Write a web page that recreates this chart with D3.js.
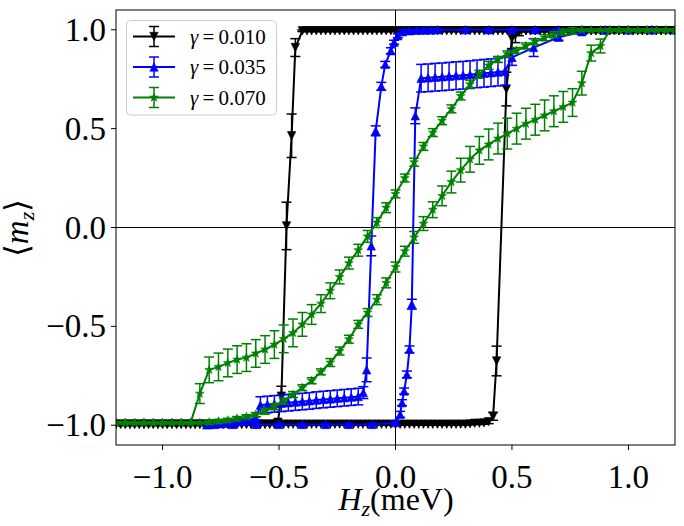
<!DOCTYPE html>
<html><head><meta charset="utf-8">
<script src="https://cdn.jsdelivr.net/npm/d3@7"></script>
<style>body{margin:0;background:#fff}svg{display:block}</style>
</head><body>
<svg id="chart" width="684" height="526"></svg>
<script>
// ---------------- data ----------------
const xTicks = [-1.0, -0.5, 0.0, 0.5, 1.0];
const yTicks = [-1.0, -0.5, 0.0, 0.5, 1.0];
const seriesNames = ["γ = 0.010", "γ = 0.035", "γ = 0.070"];

// gamma = 0.010, field increasing branch
const blackLowH = [-1.2,-1.18,-1.16,-1.14,-1.12,-1.1,-1.08,-1.06,-1.04,-1.02,-1,-0.98,-0.96,-0.94,-0.92,-0.9,-0.88,-0.86,-0.84,-0.82,-0.8,-0.78,-0.76,-0.74,-0.72,-0.7,-0.68,-0.66,-0.64,-0.62,-0.6,-0.58,-0.56,-0.54,-0.52,-0.5,-0.48,-0.46,-0.44,-0.42,-0.4,-0.38,-0.36,-0.34,-0.32,-0.3,-0.28,-0.26,-0.24,-0.22,-0.2,-0.18,-0.16,-0.14,-0.12,-0.1,-0.08,-0.06,-0.04,-0.02,0,0.02,0.04,0.06,0.08,0.1,0.12,0.14,0.16,0.18,0.2,0.22,0.24,0.26,0.28,0.3,0.32,0.34,0.36,0.38,0.4,
 0.419,0.434,0.476,0.5,0.515,0.53,
 0.56,0.58,0.6,0.62,0.64,0.66,0.68,0.7,0.72,0.74,0.76,0.78,0.8,0.82,0.84,0.86,0.88,0.9,0.92,0.94,0.96,0.98,1,1.02,1.04,1.06,1.08,1.1,1.12,1.14,1.16,1.18,1.2];
const blackLowM = [-0.995,-0.995,-0.995,-0.995,-0.995,-0.995,-0.995,-0.995,-0.995,-0.995,
 -0.995,-0.995,-0.995,-0.995,-0.995,-0.995,-0.995,-0.995,-0.995,-0.995,
 -0.995,-0.995,-0.995,-0.995,-0.995,-0.995,-0.995,-0.995,-0.995,-0.995,
 -0.995,-0.995,-0.995,-0.995,-0.995,-0.995,-0.995,-0.995,-0.995,-0.995,
 -0.995,-0.995,-0.995,-0.995,-0.995,-0.995,-0.995,-0.995,-0.995,-0.995,
 -0.995,-0.995,-0.995,-0.995,-0.995,-0.995,-0.995,-0.995,-0.995,-0.995,
 -0.995,-0.995,-0.995,-0.995,-0.995,-0.995,-0.995,-0.995,-0.995,-0.995,
 -0.995,-0.995,-0.995,-0.995,-0.995,-0.995,-0.993,-0.99,-0.99,-0.988,-0.982,
 -0.955,-0.675,0.70,0.955,0.975,0.99,
 0.995,0.995,0.995,0.995,0.995,0.995,0.995,0.995,0.995,0.995,0.995,
 0.995,0.995,0.995,0.995,0.995,0.995,0.995,0.995,0.995,0.995,0.995,
 0.995,0.995,0.995,0.995,0.995,0.995,0.995,0.995,0.995,0.995,0.995];
const blackLowErr = [0.004,0.004,0.004,0.004,0.004,0.004,0.004,0.004,0.004,0.004,
 0.004,0.004,0.004,0.004,0.004,0.004,0.004,0.004,0.004,0.004,
 0.004,0.004,0.004,0.004,0.004,0.004,0.004,0.004,0.004,0.004,
 0.004,0.004,0.004,0.004,0.004,0.004,0.004,0.004,0.004,0.004,
 0.004,0.004,0.004,0.004,0.004,0.004,0.004,0.004,0.004,0.004,
 0.004,0.004,0.004,0.004,0.004,0.004,0.004,0.004,0.004,0.004,
 0.004,0.004,0.004,0.004,0.004,0.004,0.004,0.004,0.004,0.004,
 0.004,0.004,0.004,0.004,0.004,0.004,0.005,0.006,0.006,0.007,0.01,
 0.02,0.075,0.085,0.05,0.04,0.02,
 0.004,0.004,0.004,0.004,0.004,0.004,0.004,0.004,0.004,0.004,0.004,
 0.004,0.004,0.004,0.004,0.004,0.004,0.004,0.004,0.004,0.004,0.004,
 0.004,0.004,0.004,0.004,0.004,0.004,0.004,0.004,0.004,0.004,0.004];

// gamma = 0.010, field decreasing branch
const blackUpH = [-1.2,-1.18,-1.16,-1.14,-1.12,-1.1,-1.08,-1.06,-1.04,-1.02,-1,-0.98,-0.96,-0.94,-0.92,-0.9,-0.88,-0.86,-0.84,-0.82,-0.8,-0.78,-0.76,-0.74,-0.72,-0.7,-0.68,-0.66,-0.64,-0.62,-0.6,-0.58,-0.56,-0.54,-0.52,
 -0.505,-0.49,-0.468,-0.446,-0.43,
 -0.4,-0.38,-0.36,-0.34,-0.32,-0.3,-0.28,-0.26,-0.24,-0.22,-0.2,-0.18,-0.16,-0.14,-0.12,-0.1,-0.08,-0.06,-0.04,-0.02,0,0.02,0.04,0.06,0.08,0.1,0.12,0.14,0.16,0.18,0.2,0.22,0.24,0.26,0.28,0.3,0.32,0.34,0.36,0.38,0.4,0.42,0.44,0.46,0.48,0.5,0.52,0.54,0.56,0.58,0.6,0.62,0.64,0.66,0.68,0.7,0.72,0.74,0.76,0.78,0.8,0.82,0.84,0.86,0.88,0.9,0.92,0.94,0.96,0.98,1,1.02,1.04,1.06,1.08,1.1,1.12,1.14,1.16,1.18,1.2];
const blackUpM = [-0.995,-0.995,-0.995,-0.995,-0.995,-0.995,-0.995,-0.995,-0.995,-0.995,
 -0.995,-0.995,-0.995,-0.995,-0.995,-0.995,-0.995,-0.995,-0.995,-0.995,
 -0.995,-0.995,-0.995,-0.995,-0.995,-0.995,-0.995,-0.995,-0.995,-0.995,
 -0.995,-0.995,-0.995,-0.995,-0.995,
 -0.985,-0.853,0.008,0.464,0.91,
 0.995,0.995,0.995,0.995,0.995,0.995,0.995,0.995,0.995,0.995,
 0.995,0.995,0.995,0.995,0.995,0.995,0.995,0.995,0.995,0.995,
 0.995,0.995,0.995,0.995,0.995,0.995,0.995,0.995,0.995,0.995,
 0.995,0.995,0.995,0.995,0.995,0.995,0.995,0.995,0.995,0.995,
 0.995,0.995,0.995,0.995,0.995,0.995,0.995,0.995,0.995,0.995,
 0.995,0.995,0.995,0.995,0.995,0.995,0.995,0.995,0.995,0.995,
 0.995,0.995,0.995,0.995,0.995,0.995,0.995,0.995,0.995,0.995,
 0.995,0.995,0.995,0.995,0.995,0.995,0.995,0.995,0.995,0.995,0.995];
const blackUpErr = [0.004,0.004,0.004,0.004,0.004,0.004,0.004,0.004,0.004,0.004,
 0.004,0.004,0.004,0.004,0.004,0.004,0.004,0.004,0.004,0.004,
 0.004,0.004,0.004,0.004,0.004,0.004,0.004,0.004,0.004,0.004,
 0.004,0.004,0.004,0.004,0.004,
 0.01,0.05,0.12,0.11,0.045,
 0.004,0.004,0.004,0.004,0.004,0.004,0.004,0.004,0.004,0.004,
 0.004,0.004,0.004,0.004,0.004,0.004,0.004,0.004,0.004,0.004,
 0.004,0.004,0.004,0.004,0.004,0.004,0.004,0.004,0.004,0.004,
 0.004,0.004,0.004,0.004,0.004,0.004,0.004,0.004,0.004,0.004,
 0.004,0.004,0.004,0.004,0.004,0.004,0.004,0.004,0.004,0.004,
 0.004,0.004,0.004,0.004,0.004,0.004,0.004,0.004,0.004,0.004,
 0.004,0.004,0.004,0.004,0.004,0.004,0.004,0.004,0.004,0.004,
 0.004,0.004,0.004,0.004,0.004,0.004,0.004,0.004,0.004,0.004,0.004];

// gamma = 0.035, field increasing branch
const blueLowH = [-0.8,-0.7,-0.6,-0.5,-0.4,-0.3,-0.2,-0.1,0.0,0.02,0.028,0.037,0.049,0.06,0.07,0.085,
 0.11,0.14,0.17,0.2,0.23,0.26,0.29,0.32,0.35,0.38,0.41,0.44,0.47,0.5,0.593,0.7,0.8,0.9,1.0,1.1,1.2];
const blueLowM = [-0.996,-0.996,-0.996,-0.996,-0.996,-0.996,-0.996,-0.996,-0.987,-0.945,-0.886,-0.827,-0.743,-0.616,-0.388,0.565,
 0.755,0.757,0.76,0.762,0.765,0.768,0.77,0.773,0.777,0.78,0.783,0.786,0.79,0.86,0.91,0.962,0.99,0.998,1,1,1];
const blueLowErr = [0.005,0.005,0.005,0.005,0.005,0.005,0.005,0.005,0.01,0.015,0.015,0.015,0.017,0.017,0.025,0.04,
 0.07,0.07,0.07,0.07,0.07,0.07,0.07,0.07,0.07,0.07,0.07,0.07,0.07,0.04,0.045,0.015,0.01,0.005,0.005,0.005,0.005];

// gamma = 0.035, field decreasing branch
const blueUpH = [-0.81,-0.78,-0.75,-0.72,-0.69,-0.66,-0.63,-0.6,
 -0.58,-0.55,-0.52,-0.49,-0.46,-0.43,-0.4,-0.37,-0.34,-0.31,-0.28,-0.25,-0.22,-0.19,-0.16,
 -0.138,-0.124,-0.104,-0.085,-0.061,-0.044,-0.02,-0.006,0.01,0.03,
 0.06,0.09,0.12,0.15,0.18,0.3,0.4,0.5,0.6,0.7,0.8,0.9,1.0,1.1,1.2];
const blueUpM = [-0.998,-0.996,-0.993,-0.99,-0.985,-0.98,-0.974,-0.965,
 -0.898,-0.895,-0.892,-0.889,-0.886,-0.883,-0.88,-0.877,-0.873,-0.87,-0.867,-0.864,-0.861,-0.858,-0.855,
 -0.835,-0.72,-0.093,0.489,0.714,0.825,0.894,0.937,0.97,0.99,
 0.995,0.997,0.998,0.999,1,1,1,1,1,1,1,1,1,1,1];
const blueUpErr = [0.008,0.008,0.008,0.008,0.008,0.008,0.008,0.008,
 0.042,0.042,0.042,0.042,0.042,0.042,0.042,0.042,0.042,0.042,0.042,0.042,0.042,0.042,0.042,
 0.03,0.06,0.05,0.025,0.02,0.015,0.015,0.01,0.01,0.01,
 0.005,0.005,0.005,0.005,0.005,0.004,0.004,0.004,0.004,0.004,0.004,0.004,0.004,0.004,0.004];

// gamma = 0.070, common field grid
const greenH = [-1.2,-1.16,-1.12,-1.08,-1.04,-1,-0.96,-0.92,-0.88,-0.84,-0.8,-0.76,-0.72,-0.68,-0.64,-0.6,-0.56,-0.52,-0.48,-0.44,-0.4,-0.36,-0.32,-0.28,-0.24,-0.2,-0.16,-0.12,-0.08,-0.04,0,0.04,0.08,0.12,0.16,0.2,0.24,0.28,0.32,0.36,0.4,0.44,0.48,0.52,0.56,0.6,0.64,0.68,0.72,0.76,0.8,0.84,0.88,0.92,0.96,1,1.04,1.08,1.12,1.16,1.2];
const greenAM = [-0.988,-0.988,-0.988,-0.988,-0.988,-0.988,-0.988,-0.988,-0.988,
 -0.84,-0.72,-0.705,-0.685,-0.668,-0.658,-0.637,-0.617,-0.592,-0.563,
 -0.533,-0.49,-0.44,-0.385,-0.32,-0.25,-0.18,-0.115,-0.045,0.025,
 0.10,0.17,0.25,0.33,0.41,0.48,0.54,0.60,0.665,0.725,
 0.775,0.82,0.85,0.878,0.895,0.918,0.94,0.96,0.975,0.988,0.995,
 0.998,0.998,0.998,0.998,0.998,0.998,0.998,0.998,0.998,0.998,0.998];
const greenAErr = [0.005,0.005,0.005,0.005,0.005,0.005,0.005,0.005,0.005,
 0.05,0.065,0.07,0.07,0.07,0.07,0.07,0.07,0.07,0.07,
 0.07,0.06,0.05,0.045,0.04,0.035,0.03,0.03,0.03,0.025,
 0.025,0.02,0.02,0.02,0.02,0.02,0.02,0.02,0.02,0.02,
 0.02,0.02,0.015,0.015,0.015,0.015,0.015,0.015,0.015,0.015,0.015,
 0.005,0.005,0.005,0.005,0.005,0.005,0.005,0.005,0.005,0.005,0.005];
const greenBM = [-0.988,-0.988,-0.988,-0.988,-0.988,-0.988,-0.988,-0.988,-0.988,-0.988,
 -0.985,-0.98,-0.975,-0.966,-0.957,-0.946,-0.929,-0.906,-0.878,-0.845,
 -0.81,-0.775,-0.73,-0.683,-0.625,-0.565,-0.49,-0.43,-0.365,-0.28,
 -0.2,-0.12,-0.05,0.02,0.09,0.16,0.23,0.29,0.345,0.39,
 0.42,0.45,0.475,0.50,0.525,0.545,0.567,0.588,0.61,0.632,
 0.73,0.882,0.918,
 0.998,0.998,0.998,0.998,0.998,0.998,0.998,0.998];
const greenBErr = [0.005,0.005,0.005,0.005,0.005,0.005,0.005,0.005,0.005,0.005,
 0.01,0.01,0.01,0.01,0.01,0.01,0.015,0.015,0.015,0.015,
 0.015,0.015,0.015,0.02,0.02,0.02,0.02,0.02,0.025,0.025,
 0.025,0.025,0.03,0.035,0.04,0.05,0.055,0.06,0.065,0.07,
 0.078,0.078,0.078,0.078,0.078,0.078,0.078,0.078,0.078,0.07,
 0.06,0.04,0.035,
 0.005,0.005,0.005,0.005,0.005,0.005,0.005,0.005];

// ---------------- drawing ----------------
const svg = d3.select("#chart");
const L = 116, R = 675, T = 10, B = 445;
const x = d3.scaleLinear().domain([-1.2, 1.2]).range([L, R]);
const y = d3.scaleLinear().domain([-1.1, 1.1]).range([B, T]);
const serif = "'Liberation Serif','Times New Roman',serif";

svg.append("rect").attr("width", 684).attr("height", 526).attr("fill", "#fff");
svg.append("defs").append("clipPath").attr("id", "plotclip")
  .append("rect").attr("x", L).attr("y", T).attr("width", R - L).attr("height", B - T);

const plot = svg.append("g").attr("clip-path", "url(#plotclip)");
// zero lines
plot.append("line").attr("x1", L).attr("x2", R).attr("y1", y(0)).attr("y2", y(0)).attr("stroke", "#000").attr("stroke-width", 1);
plot.append("line").attr("x1", x(0)).attr("x2", x(0)).attr("y1", T).attr("y2", B).attr("stroke", "#000").attr("stroke-width", 1);

function markerPath(kind) {
  if (kind === "down") { const r = 4.2; return `M0,${r}L${-r},${-r}L${r},${-r}Z`; }
  if (kind === "up") { const r = 4.2; return `M0,${-r}L${-r},${r}L${r},${r}Z`; }
  const ro = 4.6, ri = 1.8; let p = "";
  for (let i = 0; i < 10; i++) {
    const r = i % 2 === 0 ? ro : ri;
    const a = -Math.PI / 2 + i * Math.PI / 5;
    p += (i === 0 ? "M" : "L") + (r * Math.cos(a)).toFixed(2) + "," + (r * Math.sin(a)).toFixed(2);
  }
  return p + "Z";
}

const series = [
  { name: seriesNames[0], color: "#000000", marker: "down",
    branches: [[blackLowH, blackLowM, blackLowErr], [blackUpH, blackUpM, blackUpErr]] },
  { name: seriesNames[1], color: "#0000ff", marker: "up",
    branches: [[blueLowH, blueLowM, blueLowErr], [blueUpH, blueUpM, blueUpErr]] },
  { name: seriesNames[2], color: "#008000", marker: "star",
    branches: [[greenH, greenAM, greenAErr], [greenH, greenBM, greenBErr]] }
];

const capW = 5;
const line = d3.line().x(d => x(d.h)).y(d => y(d.m));

series.forEach(s => {
  const g = plot.append("g");
  s.branches.forEach(([hs, ms, es]) => {
    const pts = hs.map((h, i) => ({ h, m: ms[i], e: es[i] }));
    const bg = g.append("g");
    bg.selectAll("line.bar").data(pts).join("line")
      .attr("x1", d => x(d.h)).attr("x2", d => x(d.h))
      .attr("y1", d => y(d.m - d.e)).attr("y2", d => y(d.m + d.e))
      .attr("stroke", s.color).attr("stroke-width", 1.5);
    bg.selectAll("line.capt").data(pts).join("line")
      .attr("x1", d => x(d.h) - capW).attr("x2", d => x(d.h) + capW)
      .attr("y1", d => y(d.m + d.e)).attr("y2", d => y(d.m + d.e))
      .attr("stroke", s.color).attr("stroke-width", 1.5);
    bg.selectAll("line.capb").data(pts).join("line")
      .attr("x1", d => x(d.h) - capW).attr("x2", d => x(d.h) + capW)
      .attr("y1", d => y(d.m - d.e)).attr("y2", d => y(d.m - d.e))
      .attr("stroke", s.color).attr("stroke-width", 1.5);
    bg.append("path").datum(pts).attr("d", line)
      .attr("fill", "none").attr("stroke", s.color).attr("stroke-width", 2).attr("stroke-linejoin", "round");
    bg.selectAll("path.mk").data(pts).join("path")
      .attr("transform", d => `translate(${x(d.h)},${y(d.m)})`)
      .attr("d", markerPath(s.marker)).attr("fill", s.color).attr("stroke", s.color).attr("stroke-width", 0.6);
  });
});

// frame
svg.append("rect").attr("x", L).attr("y", T).attr("width", R - L).attr("height", B - T)
  .attr("fill", "none").attr("stroke", "#000").attr("stroke-width", 1);

// ticks
const fmt = v => (v < 0 ? "\u2212" : "") + Math.abs(v).toFixed(1);
xTicks.forEach(t => {
  svg.append("line").attr("x1", x(t)).attr("x2", x(t)).attr("y1", B).attr("y2", B + 5).attr("stroke", "#000");
  svg.append("text").attr("x", x(t)).attr("y", 488).attr("text-anchor", "middle")
    .attr("font-family", serif).attr("font-size", 33).text(fmt(t));
});
yTicks.forEach(t => {
  svg.append("line").attr("x1", L - 5).attr("x2", L).attr("y1", y(t)).attr("y2", y(t)).attr("stroke", "#000");
  svg.append("text").attr("x", 106).attr("y", y(t) + 11).attr("text-anchor", "end")
    .attr("font-family", serif).attr("font-size", 33).text(fmt(t));
});

// axis labels
const xl = svg.append("text").attr("x", 396).attr("y", 510).attr("text-anchor", "middle")
  .attr("font-family", serif).attr("font-size", 32);
xl.append("tspan").attr("font-style", "italic").text("H");
xl.append("tspan").attr("font-style", "italic").attr("font-size", 22).attr("dy", 6).text("z");
xl.append("tspan").attr("dy", -6).text("(meV)");

const yl = svg.append("text").attr("transform", "translate(28,228) rotate(-90)").attr("text-anchor", "middle")
  .attr("font-family", serif).attr("font-size", 33);
yl.append("tspan").text("\u27E8");
yl.append("tspan").attr("font-style", "italic").text("m");
yl.append("tspan").attr("font-style", "italic").attr("font-size", 22).attr("dy", 6).text("z");
yl.append("tspan").attr("dy", -6).text("\u27E9");

// legend
const lg = svg.append("g");
lg.append("rect").attr("x", 126.5).attr("y", 20.5).attr("width", 150).attr("height", 94.5).attr("rx", 4)
  .attr("fill", "#fff").attr("fill-opacity", 0.8).attr("stroke", "#cccccc").attr("stroke-width", 1);
const rowsY = [36.5, 67, 97.5];
series.forEach((s, i) => {
  const cy = rowsY[i];
  lg.append("line").attr("x1", 133).attr("x2", 175).attr("y1", cy).attr("y2", cy).attr("stroke", s.color).attr("stroke-width", 2);
  lg.append("line").attr("x1", 154).attr("x2", 154).attr("y1", cy - 10).attr("y2", cy + 10).attr("stroke", s.color).attr("stroke-width", 1.5);
  [-10, 10].forEach(o => lg.append("line").attr("x1", 154 - capW).attr("x2", 154 + capW).attr("y1", cy + o).attr("y2", cy + o).attr("stroke", s.color).attr("stroke-width", 1.5));
  lg.append("path").attr("transform", `translate(154,${cy})`).attr("d", markerPath(s.marker)).attr("fill", s.color).attr("stroke", s.color).attr("stroke-width", 0.6);
  const parts = s.name.split(" = ");
  const t = lg.append("text").attr("x", 190).attr("y", cy + 7).attr("font-family", serif).attr("font-size", 21);
  t.append("tspan").attr("font-style", "italic").text(parts[0]);
  t.append("tspan").text("\u2009=\u2009" + parts[1]);
});
</script>
</body></html>
